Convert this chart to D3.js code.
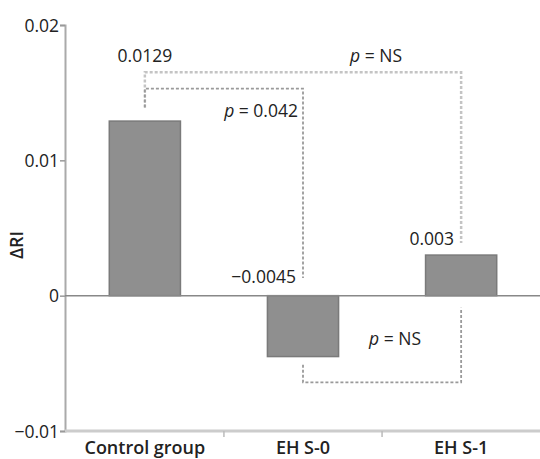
<!DOCTYPE html>
<html>
<head>
<meta charset="utf-8">
<style>
body { margin: 0; background: #fff; }
text { font-family: "Open Sans", sans-serif; fill: #222; }
.bracket { fill: none; stroke-dasharray: 3,2; }
</style>
</head>
<body>
<script src="https://cdn.jsdelivr.net/npm/d3@7"></script>
<script>
// data
var categories = ["Control group", "EH S-0", "EH S-1"];
var values = [0.0129, -0.0045, 0.003];
var valueLabels = ["0.0129", "\u22120.0045", "0.003"];
var yTicks = [-0.01, 0, 0.01, 0.02];
var yTickLabels = ["\u22120.01", "0", "0.01", "0.02"];

// significance comparisons (bar index from/to, bracket level, leg ends, p)
var bracketFrom = [0, 0, 1];
var bracketTo = [2, 1, 2];
var bracketLevel = [0.0165, 0.0153, -0.0064];
var bracketFromEnd = [0.0139, 0.0139, -0.0051];
var bracketToEnd = [0.0039, 0.0013, -0.0009];
var bracketLabels = ["NS", "0.042", "NS"];

var width = 540, height = 459;

var svg = d3.select("body").append("svg")
    .attr("width", width)
    .attr("height", height);

var y = d3.scaleLinear().domain([-0.01, 0.02]).range([431, 25]);
var x = d3.scaleBand().domain(categories).range([65, 541])
    .paddingInner(0.55).paddingOuter(0.28);

// y axis
var yAxis = svg.append("g")
    .attr("transform", "translate(65,0)")
    .call(d3.axisLeft(y).tickValues(yTicks).tickSize(5)
      .tickFormat(function(d, i) { return yTickLabels[i]; }));
yAxis.select(".domain").attr("stroke", "#aaa").attr("stroke-width", 2);
yAxis.selectAll(".tick line").attr("stroke", "#999").attr("stroke-width", 1.5);
yAxis.selectAll(".tick text").attr("x", -6).attr("dy", "0.36em")
    .style("font-size", "17.5px").style("fill", "#222");

// bottom axis line with ticks between groups
svg.append("line")
    .attr("x1", 65).attr("x2", width)
    .attr("y1", y(-0.01)).attr("y2", y(-0.01))
    .attr("stroke", "#ccc").attr("stroke-width", 3);

var step = x.step();
categories.slice(1).forEach(function(c) {
  var bx = x(c) - x.paddingInner() * step / 2;
  svg.append("line")
      .attr("x1", bx).attr("x2", bx)
      .attr("y1", y(-0.01)).attr("y2", y(-0.01) + 6)
      .attr("stroke", "#bbb").attr("stroke-width", 1.5);
});

svg.selectAll(".cat")
    .data(categories)
  .enter().append("text")
    .attr("class", "cat")
    .attr("x", function(d) { return x(d) + x.bandwidth() / 2; })
    .attr("y", 454)
    .attr("text-anchor", "middle")
    .style("font-size", "18px")
    .style("font-weight", 600)
    .text(function(d) { return d; });

// axis title
svg.append("text")
    .attr("transform", "translate(23," + 245 + ") rotate(-90)")
    .attr("text-anchor", "middle")
    .style("font-size", "18px")
    .style("font-weight", 600)
    .text("\u0394RI");

// bars
svg.selectAll(".bar")
    .data(values)
  .enter().append("rect")
    .attr("class", "bar")
    .attr("x", function(d, i) { return x(categories[i]); })
    .attr("width", x.bandwidth())
    .attr("y", function(d) { return y(Math.max(0, d)); })
    .attr("height", function(d) { return Math.abs(y(d) - y(0)); })
    .attr("fill", "#8f8f8f")
    .attr("stroke", "#7a7a7a")
    .attr("stroke-width", 1.5);

// zero line
svg.append("line")
    .attr("x1", 65).attr("x2", width)
    .attr("y1", y(0)).attr("y2", y(0))
    .attr("stroke", "#888").attr("stroke-width", 1.5);

function cx(i) { return x(categories[i]) + x.bandwidth() / 2; }

// value labels; the two on the right sit left of the bracket legs
var labelY = [62, 283, 245];
svg.selectAll(".val")
    .data(valueLabels)
  .enter().append("text")
    .attr("class", "val")
    .attr("x", function(d, i) { return i == 0 ? cx(i) : cx(i) - 7; })
    .attr("y", function(d, i) { return labelY[i]; })
    .attr("text-anchor", function(d, i) { return i == 0 ? "middle" : "end"; })
    .style("font-size", "17.5px")
    .text(function(d) { return d; });

// significance brackets
bracketLevel.forEach(function(lv, k) {
  var x1 = cx(bracketFrom[k]), x2 = cx(bracketTo[k]);
  svg.append("path")
      .attr("class", "bracket")
      .attr("d", "M" + x1 + "," + y(bracketFromEnd[k]) +
                 "V" + y(lv) + "H" + x2 + "V" + y(bracketToEnd[k]))
      .attr("stroke", k == 0 ? "#c4c4c4" : "#9a9a9a")
      .attr("stroke-width", k == 0 ? 2.5 : 1.8);
});

var pPos = [[376, 62, "middle"], [298, 117, "end"], [395, 345, "middle"]];
bracketLabels.forEach(function(lb, k) {
  var t = svg.append("text")
      .attr("x", pPos[k][0]).attr("y", pPos[k][1])
      .attr("text-anchor", pPos[k][2])
      .style("font-size", "17.5px");
  t.append("tspan").style("font-style", "italic").text("p");
  t.append("tspan").text(" = " + lb);
});
</script>
</body>
</html>
